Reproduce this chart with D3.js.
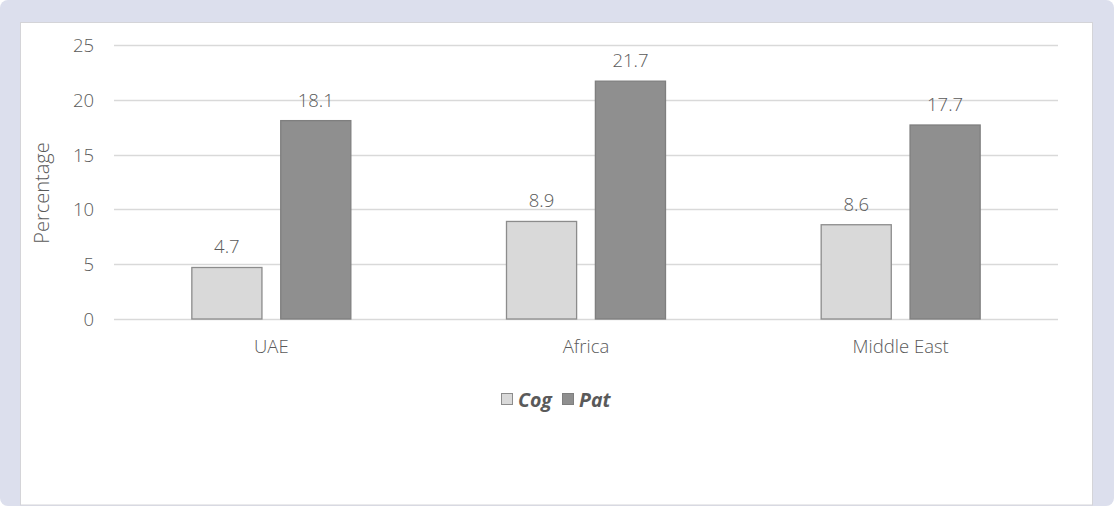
<!DOCTYPE html>
<html><head><meta charset="utf-8">
<script src="https://cdn.jsdelivr.net/npm/d3@7"></script>
<style>html,body{margin:0;padding:0;background:#fff;}svg{display:block;}</style>
</head><body>
<script>
const categories = ["UAE", "Africa", "Middle East"];
const seriesNames = ["Cog", "Pat"];
const cogValues = [4.7, 8.9, 8.6];
const patValues = [18.1, 21.7, 17.7];
const yTicks = [0, 5, 10, 15, 20, 25];

const W = 1114, H = 506;
const svg = d3.select("body").append("svg").attr("width", W).attr("height", H);
svg.append("rect").attr("x",0).attr("y",0).attr("width",W).attr("height",H).attr("rx",8).attr("fill","#dcdfed");
svg.append("rect").attr("x",20.5).attr("y",22.5).attr("width",1072).attr("height",482.5).attr("fill","#fff").attr("stroke","#d4d4d8");

const font = "'Open Sans', sans-serif";
const textCol = "#5a5a5a";
const fs = 18.5;
const x0 = d3.scaleBand().domain(categories).range([114, 1058]);
const bw = x0.bandwidth();
const x1 = d3.scaleBand().domain(seriesNames).range([(bw - 160) / 2, (bw + 160) / 2]).paddingInner(0.2);
const y = d3.scaleLinear().domain([0, 25]).range([319, 45]);

const g = svg.append("g");
g.selectAll("line.grid").data(yTicks).join("line")
  .attr("x1", 114).attr("x2", 1058)
  .attr("y1", d => Math.round(y(d)) + 0.5).attr("y2", d => Math.round(y(d)) + 0.5)
  .attr("stroke", "#d9d9d9").attr("stroke-width", 1.3);

const yAxis = d3.axisLeft(y).tickValues(yTicks).tickSize(0).tickPadding(0);
const ya = svg.append("g").attr("transform", "translate(94,0)").call(yAxis);
ya.select(".domain").remove();
ya.selectAll("text").attr("font-family", font).attr("font-size", fs).attr("font-weight", 300).attr("fill", textCol).attr("dy", "0.35em");

const xAxis = d3.axisBottom(x0).tickSize(0).tickPadding(0);
const xa = svg.append("g").attr("transform", "translate(0,353)").call(xAxis);
xa.select(".domain").remove();
xa.selectAll("text").attr("font-family", font).attr("font-size", fs).attr("font-weight", 300).attr("fill", textCol).attr("dy", 0);

const colors = {Cog: "#d9d9d9", Pat: "#8f8f8f"};
const strokes = {Cog: "#8c8c8c", Pat: "#7f7f7f"};
const data = categories.map((c, i) => ({c, vals: [{s: "Cog", v: cogValues[i]}, {s: "Pat", v: patValues[i]}]}));
const grp = svg.selectAll("g.cat").data(data).join("g").attr("transform", d => `translate(${x0(d.c)},0)`);
grp.selectAll("rect").data(d => d.vals).join("rect")
  .attr("x", d => x1(d.s) + 0.5).attr("y", d => y(d.v))
  .attr("width", x1.bandwidth() - 1).attr("height", d => y(0) - y(d.v))
  .attr("fill", d => colors[d.s]).attr("stroke", d => strokes[d.s]).attr("stroke-width", 1.3);
grp.selectAll("text").data(d => d.vals).join("text")
  .attr("x", d => x1(d.s) + x1.bandwidth() / 2).attr("y", d => y(d.v) - 14)
  .attr("text-anchor", "middle").attr("font-family", font).attr("font-size", fs).attr("font-weight", 300).attr("fill", textCol)
  .text(d => d.v.toFixed(1));

svg.append("text").attr("transform", "translate(49,193) rotate(-90)").attr("text-anchor", "middle")
  .attr("font-family", font).attr("font-size", 20).attr("font-weight", 300).attr("fill", textCol).text("Percentage");

const leg = svg.append("g");
const legX = [501, 562];
seriesNames.forEach((s, i) => {
  leg.append("rect").attr("x", legX[i] + 0.5).attr("y", 393.5).attr("width", 11).attr("height", 11)
    .attr("fill", colors[s]).attr("stroke", strokes[s]);
  leg.append("text").attr("x", legX[i] + 17).attr("y", 406.5).attr("font-family", font).attr("font-size", 19.5)
    .attr("font-weight", "bold").attr("font-style", "italic").attr("fill", textCol).text(s);
});
</script>
</body></html>
